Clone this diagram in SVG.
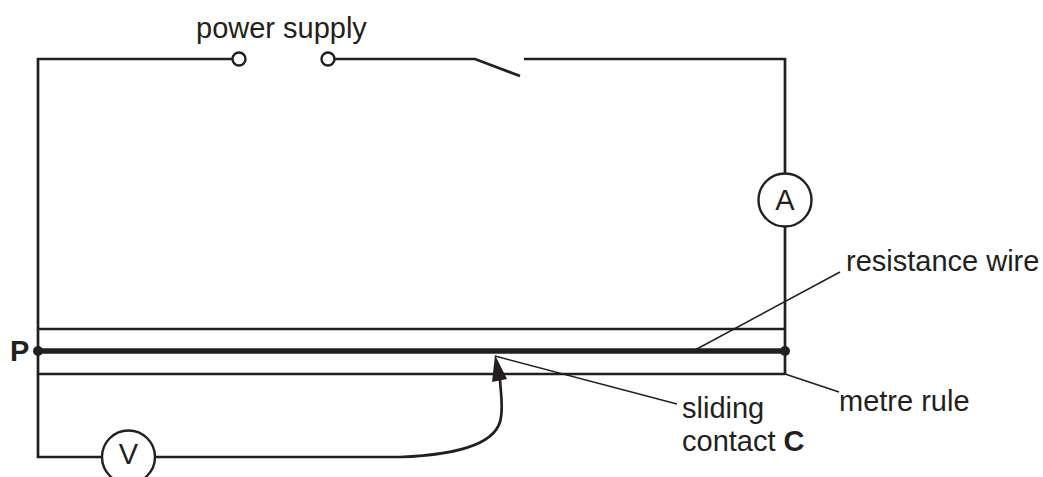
<svg xmlns="http://www.w3.org/2000/svg" width="1043" height="477" viewBox="0 0 1043 477">
<style>
.w{fill:none;stroke:#231f20;stroke-width:2.7}
.l{fill:none;stroke:#231f20;stroke-width:1.5}
.m{fill:#fff;stroke:#231f20;stroke-width:2.4}
.t{fill:#231f20;font-family:"Liberation Sans",Arial,sans-serif;font-size:29px}
.b{font-weight:bold}
</style>
<rect width="1043" height="477" fill="#fff"/>
<g id="connectors">
<path class="w" d="M232 59H38V457H102"/>
<path class="w" d="M334 59H475L520 76"/>
<path class="w" d="M524 59H785V173"/>
<path class="w" d="M785 227V374"/>
<path class="w" d="M38 329H785"/>
<path class="w" d="M38 374H785"/>
<path class="w" d="M155 457H400C455 455 498 445 501 417C503 405 501 395 500 380"/>
<path d="M38 351H785" fill="none" stroke="#231f20" stroke-width="5.5"/>
<path d="M495 355L492 382L507 379Z" fill="#231f20"/>
<path class="l" d="M695 350L840 272"/>
<path class="l" d="M495 356L677 404"/>
<path class="l" d="M785 374L839 392"/>
</g>
<g id="terminal-left"><circle class="m" cx="239" cy="59" r="6.500"/></g>
<g id="terminal-right"><circle class="m" cx="328" cy="59" r="6.500"/></g>
<g id="ammeter"><circle class="m" cx="785" cy="200" r="26.500"/><text class="t" x="785" y="210" text-anchor="middle">A</text></g>
<g id="voltmeter"><circle class="m" cx="128.500" cy="457" r="26.500"/><text class="t" x="128.500" y="464" text-anchor="middle">V</text></g>
<g id="point-P"><circle cx="38" cy="351" r="5" fill="#231f20"/><text class="t b" x="10" y="361">P</text></g>
<g id="point-end"><circle cx="785" cy="351" r="5" fill="#231f20"/></g>
<g id="labels">
<text class="t" x="196" y="38">power supply</text>
<text class="t" x="846" y="271">resistance wire</text>
<text class="t" x="839" y="411">metre rule</text>
<text class="t" x="682" y="418">sliding</text>
<text class="t" x="682" y="451">contact <tspan class="b">C</tspan></text>
</g>
</svg>
